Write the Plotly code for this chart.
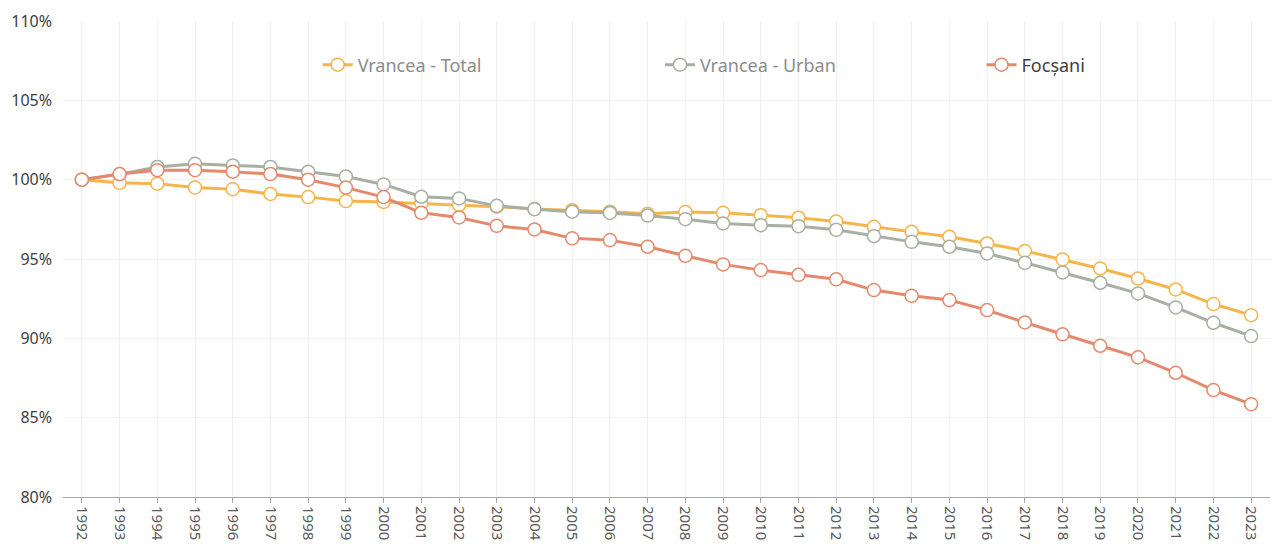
import plotly.graph_objects as go

years = [str(y) for y in range(1992, 2024)]

vrancea_total = [100.0, 99.8, 99.75, 99.5, 99.4, 99.1, 98.9, 98.65, 98.6, 98.5, 98.4, 98.3, 98.15, 98.08,
                 97.98, 97.85, 97.97, 97.91, 97.76, 97.6, 97.37, 97.03, 96.71, 96.4, 95.98, 95.51,
                 94.97, 94.4, 93.77, 93.08, 92.16, 91.46]
vrancea_urban = [100.0, 100.35, 100.8, 101.0, 100.9, 100.8, 100.5, 100.2, 99.7, 98.92, 98.82, 98.35, 98.14,
                 97.98, 97.9, 97.74, 97.51, 97.24, 97.13, 97.07, 96.84, 96.44, 96.08, 95.77, 95.35,
                 94.76, 94.15, 93.5, 92.83, 91.95, 90.98, 90.14]
focsani = [100.0, 100.35, 100.6, 100.6, 100.5, 100.35, 100.0, 99.5, 98.9, 97.91, 97.62, 97.09, 96.86,
           96.3, 96.19, 95.77, 95.2, 94.66, 94.3, 94.0, 93.72, 93.04, 92.68, 92.41, 91.78, 91.0,
           90.25, 89.53, 88.8, 87.83, 86.74, 85.85]

y_ticks = [80, 85, 90, 95, 100, 105, 110]
y_tick_labels = ["80%", "85%", "90%", "95%", "100%", "105%", "110%"]

series = [
    ("Vrancea - Total", vrancea_total, "#F5B54A", "legend", "#8C8C8C"),
    ("Vrancea - Urban", vrancea_urban, "#A7B0A3", "legend2", "#8C8C8C"),
    ("Focșani", focsani, "#E5896C", "legend3", "#404040"),
]

fig = go.Figure()
for name, vals, col, leg, _ in series:
    fig.add_trace(go.Scatter(
        x=years, y=vals, name=name, mode="lines+markers", legend=leg,
        line=dict(color=col, width=3),
        marker=dict(symbol="circle", size=13, color="white", line=dict(color=col, width=1.5)),
    ))

legend_x = [0.211, 0.4946, 0.761]
legends = {}
for (name, vals, col, leg, txtcol), lx in zip(series, legend_x):
    legends[leg] = dict(
        orientation="h", x=lx, y=0.9076, xanchor="left", yanchor="middle",
        font=dict(size=18, color=txtcol), bgcolor="rgba(0,0,0,0)", itemwidth=30,
    )

fig.update_layout(
    width=1272, height=540,
    margin=dict(l=55, r=10, t=13, b=51),
    paper_bgcolor="white", plot_bgcolor="white",
    font=dict(family="Noto Sans, Open Sans, sans-serif", color="#595959"),
    showlegend=True,
    **legends,
    xaxis=dict(
        type="category", range=[-0.5, 31.5], automargin=False,
        showgrid=True, gridcolor="#F0F0F0", gridwidth=1,
        showline=True, linecolor="#A6A6A6", linewidth=1,
        ticks="outside", tickcolor="#A6A6A6", ticklen=5,
        tickangle=90, tickfont=dict(size=15, color="#595959"),
    ),
    yaxis=dict(
        range=[80, 110], tickmode="array", tickvals=y_ticks, ticktext=y_tick_labels,
        automargin=False, showgrid=True, gridcolor="#F2F2F2", gridwidth=1,
        zeroline=False, showline=False, ticklabelstandoff=10,
        tickfont=dict(size=16, color="#404040"),
    ),
)

fig.write_html("out.html")
